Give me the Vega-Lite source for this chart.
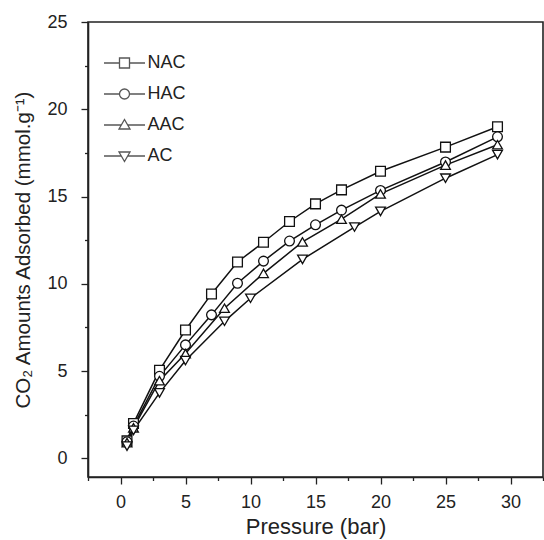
{
  "$schema": "https://vega.github.io/schema/vega-lite/v6.json",
  "width": 455,
  "height": 455,
  "autosize": "none",
  "padding": {"left": 88, "top": 22, "right": 1, "bottom": 63},
  "background": "white",
  "config": {
    "font": "Liberation Sans",
    "view": {"stroke": "#222", "strokeWidth": 1.6},
    "axis": {"domainColor": "#222", "domainWidth": 1.6, "tickColor": "#222", "tickWidth": 1.3, "labelColor": "#222", "titleColor": "#222", "labelFontSize": 18, "titleFontSize": 21, "titleFontWeight": "normal", "grid": false}
  },
  "data": {"values": [
    {"series": "NAC", "p": 0.5, "q": 1.0}, {"series": "NAC", "p": 1, "q": 2.0}, {"series": "NAC", "p": 3, "q": 5.05}, {"series": "NAC", "p": 5, "q": 7.35}, {"series": "NAC", "p": 7, "q": 9.42}, {"series": "NAC", "p": 9, "q": 11.25}, {"series": "NAC", "p": 11, "q": 12.38}, {"series": "NAC", "p": 13, "q": 13.57}, {"series": "NAC", "p": 15, "q": 14.58}, {"series": "NAC", "p": 17, "q": 15.38}, {"series": "NAC", "p": 20, "q": 16.45}, {"series": "NAC", "p": 25, "q": 17.83}, {"series": "NAC", "p": 29, "q": 19.0},
    {"series": "HAC", "p": 0.5, "q": 0.95}, {"series": "HAC", "p": 1, "q": 1.85}, {"series": "HAC", "p": 3, "q": 4.7}, {"series": "HAC", "p": 5, "q": 6.5}, {"series": "HAC", "p": 7, "q": 8.22}, {"series": "HAC", "p": 9, "q": 10.03}, {"series": "HAC", "p": 11, "q": 11.3}, {"series": "HAC", "p": 13, "q": 12.45}, {"series": "HAC", "p": 15, "q": 13.38}, {"series": "HAC", "p": 17, "q": 14.22}, {"series": "HAC", "p": 20, "q": 15.35}, {"series": "HAC", "p": 25, "q": 16.98}, {"series": "HAC", "p": 29, "q": 18.42},
    {"series": "AAC", "p": 0.5, "q": 0.9}, {"series": "AAC", "p": 1, "q": 1.75}, {"series": "AAC", "p": 3, "q": 4.45}, {"series": "AAC", "p": 5, "q": 6.0}, {"series": "AAC", "p": 8, "q": 8.6}, {"series": "AAC", "p": 11, "q": 10.6}, {"series": "AAC", "p": 14, "q": 12.4}, {"series": "AAC", "p": 17, "q": 13.7}, {"series": "AAC", "p": 20, "q": 15.15}, {"series": "AAC", "p": 25, "q": 16.8}, {"series": "AAC", "p": 29, "q": 17.97},
    {"series": "AC", "p": 0.5, "q": 0.7}, {"series": "AC", "p": 1, "q": 1.6}, {"series": "AC", "p": 3, "q": 3.75}, {"series": "AC", "p": 5, "q": 5.6}, {"series": "AC", "p": 8, "q": 7.85}, {"series": "AC", "p": 10, "q": 9.17}, {"series": "AC", "p": 14, "q": 11.4}, {"series": "AC", "p": 18, "q": 13.25}, {"series": "AC", "p": 20, "q": 14.15}, {"series": "AC", "p": 25, "q": 16.05}, {"series": "AC", "p": 29, "q": 17.4}
  ]},
  "encoding": {
    "x": {"field": "p", "type": "quantitative",
      "scale": {"domain": [-2.5, 32.5], "nice": false, "zero": false},
      "axis": {"title": "Pressure (bar)", "titleFontSize": 22, "values": [-2.5, 0, 2.5, 5, 7.5, 10, 12.5, 15, 17.5, 20, 22.5, 25, 27.5, 30, 32.5],
        "labelExpr": "datum.value % 5 === 0 ? datum.label : ''",
        "tickSize": {"condition": {"test": "datum.value % 5 === 0", "value": 7}, "value": 3.5},
        "labelPadding": 9, "titlePadding": 5}},
    "y": {"field": "q", "type": "quantitative",
      "scale": {"domain": [-1.07, 25], "nice": false, "zero": false},
      "axis": {"title": "CO₂ Amounts Adsorbed (mmol.g⁻¹)", "titleFontSize": 20.5, "values": [0, 2.5, 5, 7.5, 10, 12.5, 15, 17.5, 20, 22.5, 25],
        "labelExpr": "datum.value % 5 === 0 ? datum.label : ''",
        "tickSize": {"condition": {"test": "datum.value % 5 === 0", "value": 7}, "value": 3.5},
        "labelPadding": 14, "titlePadding": 13}}
  },
  "layer": [
    {"mark": {"type": "line", "color": "#111", "strokeWidth": 1.5},
     "encoding": {"detail": {"field": "series"}}},
    {"mark": {"type": "point", "filled": true, "fill": "white", "stroke": "#111", "strokeWidth": 1.3, "size": 95, "opacity": 1},
     "encoding": {"shape": {"field": "series", "type": "nominal",
        "scale": {"domain": ["NAC", "HAC", "AAC", "AC"], "range": ["square", "circle", "triangle-up", "triangle-down"]},
        "legend": null}}},
    {"transform": [{"filter": "datum.p > 1000"}],
     "mark": {"type": "point", "filled": false, "stroke": "#111", "strokeWidth": 1.3, "size": 100},
     "encoding": {
       "shape": {"field": "series", "type": "nominal",
        "scale": {"domain": ["NAC", "HAC", "AAC", "AC"], "range": [
          "M -4.1 0 L -1 0 M 1 0 L 4.1 0 M -1 -1 L 1 -1 L 1 1 L -1 1 Z",
          "M -4.1 0 L -1 0 M 1 0 L 4.1 0 M 1 0 A 1 1 0 1 1 -1 0 A 1 1 0 1 1 1 0 Z",
          "M -4.1 0 L -0.64 0 M 0.64 0 L 4.1 0 M 0 -1.1 L 1.1 0.8 L -1.1 0.8 Z",
          "M -4.1 0 L -0.64 0 M 0.64 0 L 4.1 0 M 0 1.1 L 1.1 -0.8 L -1.1 -0.8 Z"]},
        "legend": {"title": null, "orient": "none", "legendX": 27.5, "legendY": 32, "padding": 0,
          "symbolStrokeColor": "#111", "symbolStrokeWidth": 1.3, "symbolSize": 100,
          "labelFontSize": 18, "labelColor": "#222", "labelOffset": 14, "rowPadding": 13}}}}
  ],
  "resolve": {"scale": {"shape": "independent"}}
}
